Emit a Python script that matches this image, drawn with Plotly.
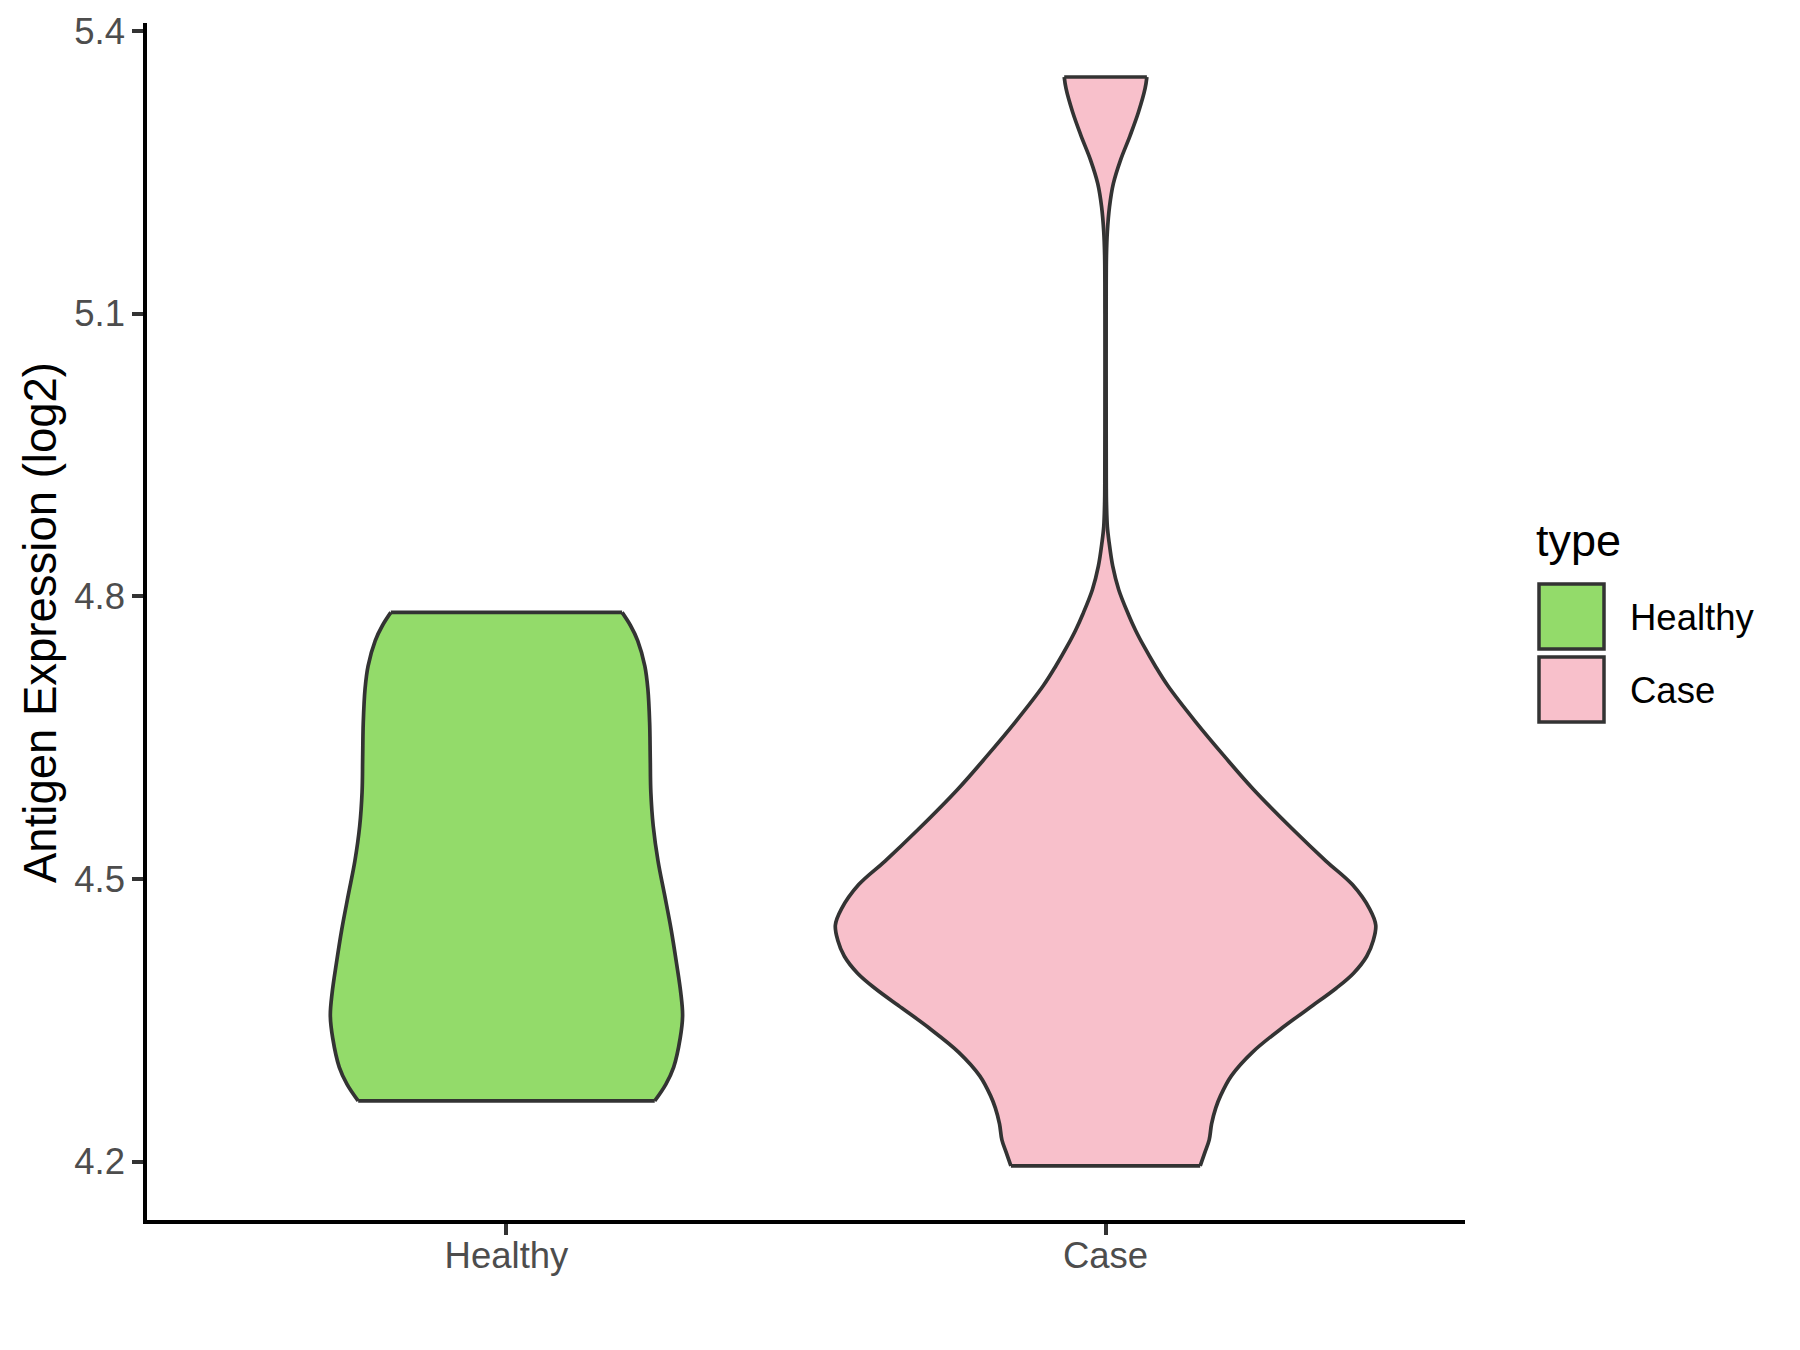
import plotly.graph_objects as go

# ---- data ----
categories = ["Healthy", "Case"]
fill_colors = ["#93DB6A", "#F8C0CB"]

# Healthy violin profile: expression value and half-width (in category units)
healthy_y = [4.7829, 4.769, 4.753, 4.726, 4.702, 4.666, 4.629, 4.592, 4.556, 4.519,
             4.483, 4.446, 4.410, 4.379, 4.355, 4.331, 4.300, 4.282, 4.2644]
healthy_w = [0.193, 0.207, 0.219, 0.231, 0.236, 0.239, 0.240, 0.241, 0.245, 0.253,
             0.264, 0.275, 0.284, 0.291, 0.294, 0.290, 0.279, 0.266, 0.2475]

# Case violin profile
case_y = [5.3512, 5.339, 5.314, 5.289, 5.263, 5.238, 5.213, 5.187, 5.162, 5.10,
          5.00, 4.92, 4.90, 4.874, 4.857, 4.832, 4.807, 4.781, 4.764, 4.747,
          4.726, 4.705, 4.667, 4.629, 4.595, 4.553, 4.519, 4.494, 4.468, 4.451,
          4.435, 4.418, 4.400, 4.384, 4.363, 4.342, 4.316, 4.291, 4.270, 4.257,
          4.240, 4.223, 4.210, 4.1954]
case_w = [0.069, 0.066, 0.055, 0.041, 0.025, 0.013, 0.0065, 0.003, 0.0015, 0.001,
          0.001, 0.0012, 0.0015, 0.003, 0.006, 0.012, 0.022, 0.038, 0.050, 0.064,
          0.083, 0.104, 0.150, 0.200, 0.247, 0.312, 0.368, 0.412, 0.441, 0.451,
          0.447, 0.436, 0.414, 0.385, 0.340, 0.295, 0.245, 0.210, 0.192, 0.184,
          0.177, 0.173, 0.166, 0.158]

y_ticks = [4.2, 4.5, 4.8, 5.1, 5.4]
y_tick_labels = ["4.2", "4.5", "4.8", "5.1", "5.4"]
y_title = "Antigen Expression (log2)"
legend_title = "type"

# ---- figure ----
FONT = "Liberation Sans, Arial, sans-serif"
OUTLINE = "#333333"
LW = 3.7

fig = go.Figure()
profiles = [(healthy_y, healthy_w), (case_y, case_w)]
for i, (cat, (ys, ws)) in enumerate(zip(categories, profiles)):
    center = i + 1
    right_x = [center + w for w in ws]
    left_x = [center - w for w in ws]
    # filled body (no outline)
    xs = right_x + left_x[::-1] + [right_x[0]]
    yy = list(ys) + list(ys)[::-1] + [ys[0]]
    fig.add_trace(go.Scatter(
        x=xs, y=yy, mode="lines", fill="toself", fillcolor=fill_colors[i],
        line=dict(width=0, color=fill_colors[i]), showlegend=False, hoverinfo="skip"))
    # smooth outline: two sides plus flat ends
    for side_x in (right_x, left_x):
        fig.add_trace(go.Scatter(
            x=side_x, y=ys, mode="lines",
            line=dict(color=OUTLINE, width=LW, shape="spline", smoothing=1),
            showlegend=False, hoverinfo="skip"))
    for k in (0, -1):
        fig.add_trace(go.Scatter(
            x=[left_x[k], right_x[k]], y=[ys[k], ys[k]], mode="lines",
            line=dict(color=OUTLINE, width=LW), showlegend=False, hoverinfo="skip"))

W, H = 1800, 1350
OFF = 8  # browser body margin
L, R, T, B = 147, 1465, 23, 1220   # plot area in page pixels

def px(X):
    return (X - L) / (R - L)

def py(Y):
    return (B - Y) / (B - T)

fig.update_layout(
    width=W, height=H,
    margin=dict(l=L - OFF, r=W - (R - OFF), t=T - OFF, b=H - (B - OFF), autoexpand=False),
    paper_bgcolor="white", plot_bgcolor="white",
    font=dict(family=FONT, size=36, color="#4D4D4D"),
    showlegend=False,
)
fig.update_xaxes(
    range=[0.4, 2.6], tickmode="array", tickvals=[1, 2], ticktext=categories,
    showgrid=False, zeroline=False, showline=True, linecolor="black", linewidth=3.5,
    ticks="outside", ticklen=11, tickwidth=3.5, tickcolor=OUTLINE,
    ticklabelstandoff=-11,
    tickfont=dict(family=FONT, size=36.5, color="#4D4D4D"),
)
fig.update_yaxes(
    range=[4.138, 5.4085], tickmode="array", tickvals=y_ticks, ticktext=y_tick_labels,
    showgrid=False, zeroline=False, showline=True, linecolor="black", linewidth=3.5,
    ticks="outside", ticklen=11, tickwidth=3.5, tickcolor=OUTLINE,
    tickfont=dict(family=FONT, size=36.5, color="#4D4D4D"),
)

annotations = [
    dict(text=y_title, x=px(40), y=py(623), xref="paper", yref="paper",
         textangle=-90, showarrow=False, xanchor="center", yanchor="middle",
         font=dict(family=FONT, size=45.5, color="black")),
    dict(text=legend_title, x=px(1534), y=py(540), xref="paper", yref="paper",
         showarrow=False, xanchor="left", yanchor="middle",
         font=dict(family=FONT, size=45, color="black")),
]
shapes = []
key_tops = [584, 657]
for i, cat in enumerate(categories):
    y0 = key_tops[i]
    shapes.append(dict(type="rect", xref="paper", yref="paper",
                       x0=px(1539), x1=px(1604), y0=py(y0 + 65), y1=py(y0),
                       fillcolor=fill_colors[i], line=dict(color=OUTLINE, width=3.5)))
    annotations.append(dict(text=cat, x=px(1628), y=py(y0 + 33), xref="paper", yref="paper",
                            showarrow=False, xanchor="left", yanchor="middle",
                            font=dict(family=FONT, size=36.5, color="black")))
fig.update_layout(annotations=annotations, shapes=shapes)

fig.write_html("out.html")
